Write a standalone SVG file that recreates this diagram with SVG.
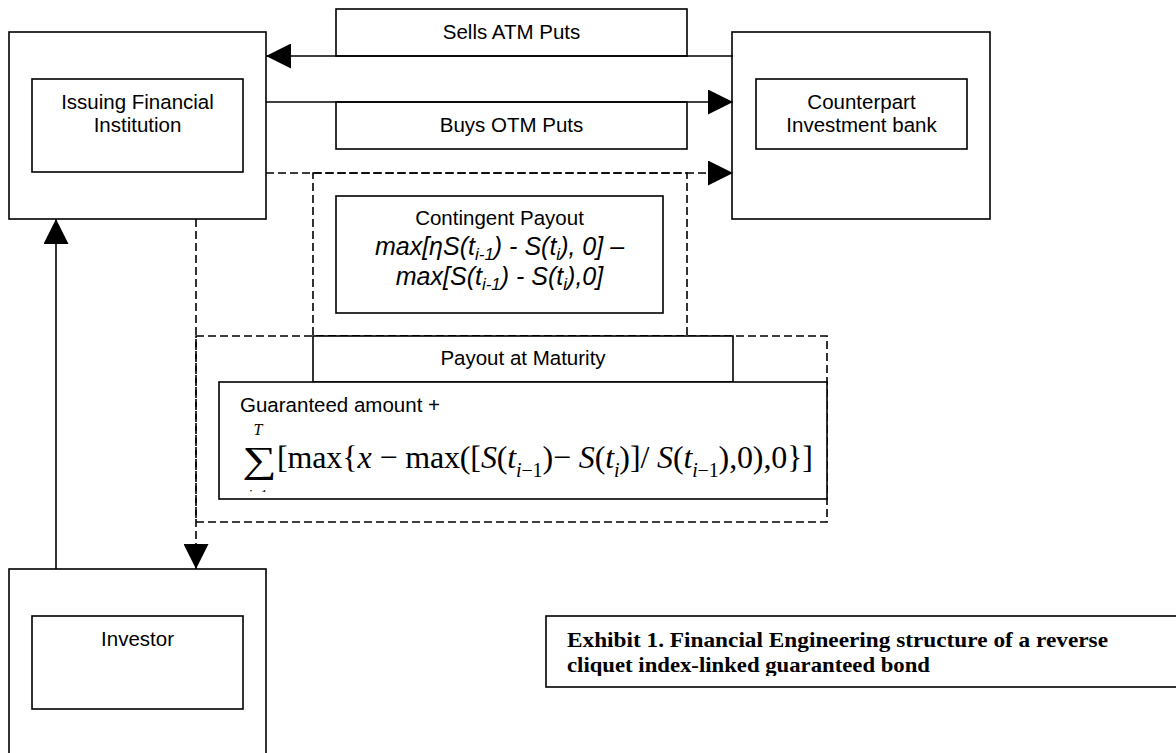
<svg xmlns="http://www.w3.org/2000/svg" width="1176" height="753" viewBox="0 0 1176 753">
<style>
.box{fill:#fff;stroke:#000;stroke-width:1.6}
.dash{fill:none;stroke:#000;stroke-width:1.6;stroke-dasharray:8 4}
.line{fill:none;stroke:#000;stroke-width:1.6}
.sans{font-family:"Liberation Sans",Arial,sans-serif;font-size:20.5px;fill:#000}
.it{font-family:"Liberation Sans",Arial,sans-serif;font-style:italic;font-size:25px;fill:#000}
.serif{font-family:"Liberation Serif","Times New Roman",serif;fill:#000}
.cap{font-family:"Liberation Serif","Times New Roman",serif;font-weight:bold;font-size:21px;fill:#000}
</style>
<defs>
<marker id="ah" viewBox="0 0 25 25" refX="25" refY="12.5" markerWidth="25" markerHeight="25" markerUnits="userSpaceOnUse" orient="auto">
<path d="M0,0 L25,12.5 L0,25 Z" fill="#000"/>
</marker>
<clipPath id="sumclip"><rect x="219" y="382" width="608" height="110"/></clipPath>
<clipPath id="capclip"><rect x="546" y="616" width="630" height="60"/></clipPath>
</defs>
<rect width="1176" height="753" fill="#fff"/>

<g id="issuer">
<rect class="box" x="9" y="32" width="257" height="187"/>
<rect class="box" x="32" y="79" width="211" height="93"/>
<text class="sans" x="137.5" y="109" text-anchor="middle">Issuing Financial</text>
<text class="sans" x="137.5" y="132" text-anchor="middle">Institution</text>
</g>

<g id="counterpart">
<rect class="box" x="732" y="32" width="258" height="187"/>
<rect class="box" x="756" y="79" width="211" height="70"/>
<text class="sans" x="861.5" y="109" text-anchor="middle">Counterpart</text>
<text class="sans" x="861.5" y="132" text-anchor="middle">Investment bank</text>
</g>

<g id="investor">
<rect class="box" x="9" y="569" width="257" height="220"/>
<rect class="box" x="32" y="616" width="211" height="93"/>
<text class="sans" x="137.5" y="646" text-anchor="middle">Investor</text>
</g>

<g id="sells-label">
<rect class="box" x="336" y="9" width="351" height="47"/>
<text class="sans" x="511.5" y="39" text-anchor="middle">Sells ATM Puts</text>
</g>

<g id="buys-label">
<rect class="box" x="336" y="102" width="351" height="47"/>
<text class="sans" x="511.5" y="132" text-anchor="middle">Buys OTM Puts</text>
</g>

<g id="contingent-region">
<rect class="dash" x="313" y="173" width="374" height="163"/>
</g>

<g id="contingent">
<rect class="box" x="336" y="196" width="327" height="117"/>
<text class="sans" x="499.5" y="225" text-anchor="middle">Contingent Payout</text>
<text class="it" x="499.5" y="255" text-anchor="middle">max[ηS(t<tspan font-size="17" dy="5">i-1</tspan><tspan dy="-5">) - S(t</tspan><tspan font-size="17" dy="5">i</tspan><tspan dy="-5">), 0] –</tspan></text>
<text class="it" x="499.5" y="285" text-anchor="middle">max[S(t<tspan font-size="17" dy="5">i-1</tspan><tspan dy="-5">) - S(t</tspan><tspan font-size="17" dy="5">i</tspan><tspan dy="-5">),0]</tspan></text>
</g>

<g id="maturity-region">
<rect class="dash" x="196" y="336" width="631" height="186"/>
</g>

<g id="payout-label">
<rect class="box" x="313" y="336" width="420" height="46"/>
<text class="sans" x="523" y="365" text-anchor="middle">Payout at Maturity</text>
</g>

<g id="payout">
<rect class="box" x="219" y="382" width="608" height="117"/>
<text class="sans" x="240" y="412">Guaranteed amount +</text>
<text class="serif" transform="translate(242,472) scale(1.3,1)" x="0" y="0" style="font-size:37px">∑</text>
<text class="serif" x="258" y="435" style="font-size:16px;font-style:italic" text-anchor="middle">T</text>
<g clip-path="url(#sumclip)">
<text class="serif" x="258" y="500" style="font-size:15px" text-anchor="middle"><tspan font-style="italic">i</tspan>=1</text>
</g>
<text class="serif" x="277" y="468" style="font-size:32px" textLength="536" lengthAdjust="spacing">[max{<tspan font-style="italic">x</tspan> − max([<tspan font-style="italic">S</tspan>(<tspan font-style="italic">t</tspan><tspan font-size="20" dy="9" font-style="italic">i</tspan><tspan font-size="20">−1</tspan><tspan dy="-9">)− </tspan><tspan font-style="italic">S</tspan>(<tspan font-style="italic">t</tspan><tspan font-size="20" dy="9" font-style="italic">i</tspan><tspan dy="-9">)]/ </tspan><tspan font-style="italic">S</tspan>(<tspan font-style="italic">t</tspan><tspan font-size="20" dy="9" font-style="italic">i</tspan><tspan font-size="20">−1</tspan><tspan dy="-9">),0),0}]</tspan></text>
</g>

<g id="caption">
<rect class="box" x="546" y="616" width="640" height="71"/>
<g clip-path="url(#capclip)">
<text class="cap" x="567" y="647" textLength="541" lengthAdjust="spacingAndGlyphs">Exhibit 1. Financial Engineering structure of a reverse</text>
<text class="cap" x="567" y="672" textLength="363" lengthAdjust="spacingAndGlyphs">cliquet index-linked guaranteed bond</text>
</g>
</g>

<g id="connectors">
<line class="line" x1="733" y1="56" x2="266" y2="56" marker-end="url(#ah)"/>
<line class="line" x1="266" y1="102" x2="733" y2="102" marker-end="url(#ah)"/>
<line class="dash" x1="266" y1="173" x2="733" y2="173" marker-end="url(#ah)"/>
<line class="line" x1="56" y1="569" x2="56" y2="219" marker-end="url(#ah)"/>
<line class="dash" x1="196" y1="219" x2="196" y2="569" marker-end="url(#ah)"/>
</g>
</svg>
